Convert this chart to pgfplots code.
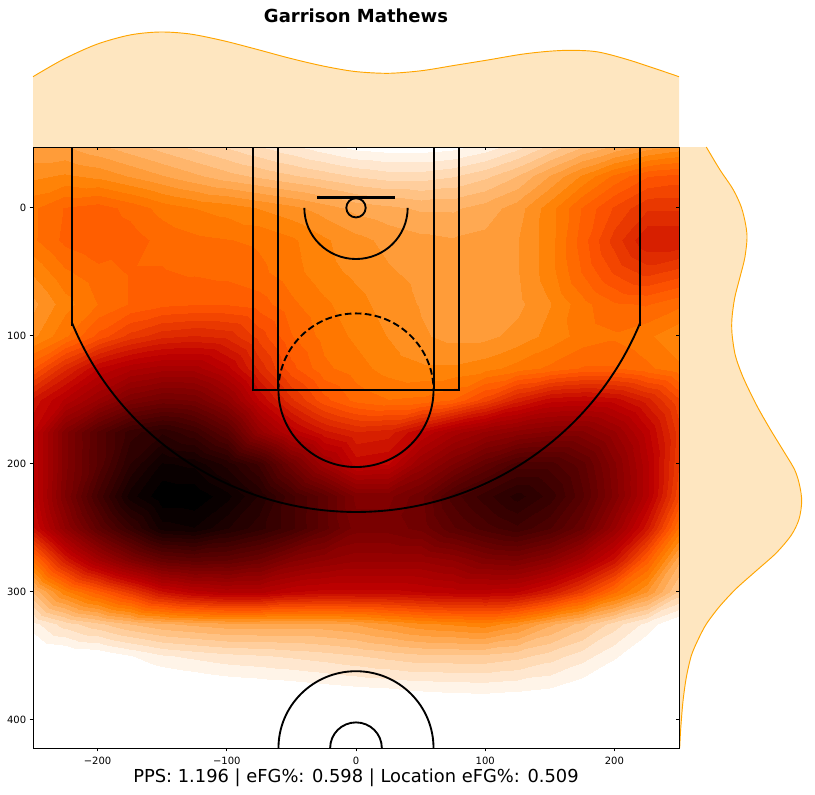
\documentclass[border=0pt]{standalone}
\usepackage{pgfplots}
\usepackage{fontspec}
\setmainfont{DejaVu Sans}
\pgfplotsset{compat=1.18}
\definecolor{margfill}{RGB}{254,230,192}
\definecolor{margline}{RGB}{255,165,0}
\pgfplotstableread{
x h
-250 70.3
-226.5 87.7
-200.7 102.7
-175 112
-151.7 115
-128.5 113
-102.7 106.3
-76.9 97.7
-51 88.7
-25.5 81
-0.8 75.5
25 73.7
50.8 76.3
76.6 81.7
102 87
128 92.7
149 95.7
167 96.7
187.5 95
213 86.3
250 70.3
}\topkde
\pgfplotstableread{
w y
27.3 -47.5
40.7 -30
54 -14.5
62.3 -0.6
66.7 13.3
68 24.1
65.7 39.5
60.7 55
55.7 70.4
53 85.9
53 98.2
56.3 115.2
64 132.2
77.3 153.8
90.7 172.3
104 189.3
115.7 204.7
120.7 217.1
122.7 229.5
120 243.3
112.3 255.7
97.3 269.6
77.3 283.5
57.3 297.4
40.7 311.3
27.3 325.2
19 337.5
12.3 349.9
7.3 366.9
4 385.4
1.7 407
0.7 422
}\rightkde
\begin{document}
\begin{tikzpicture}[x=1pt,y=1pt]
\path[use as bounding box] (0,0) rectangle (611.25,595.5);
% top marginal
\begin{axis}[at={(24.75pt,485.25pt)},anchor=south west,scale only axis,
  width=484.5pt,height=87.75pt,xmin=-250,xmax=250,ymin=0,ymax=117,hide axis,clip=false]
\addplot[fill=margfill,draw=none,smooth] table[x=x,y=h] {\topkde} \closedcycle;
\addplot[margline,line width=0.7pt,smooth] table[x=x,y=h] {\topkde};
\addplot[margline,line width=0.7pt] coordinates {(-250,0) (250,0)};
\end{axis}
% right marginal
\begin{axis}[at={(509.25pt,34.5pt)},anchor=south west,scale only axis,
  width=92.25pt,height=450.75pt,xmin=0,xmax=123,ymin=-47.5,ymax=422,y dir=reverse,hide axis,clip=false]
\addplot[fill=margfill,draw=none] coordinates {(0,-47.5) (27.3,-47.5) (40.7,-30) (54,-14.5) (62.3,-0.6) (66.7,13.3) (68,24.1) (65.7,39.5) (60.7,55) (55.7,70.4) (53,85.9) (53,98.2) (56.3,115.2) (64,132.2) (77.3,153.8) (90.7,172.3) (104,189.3) (115.7,204.7) (120.7,217.1) (122.7,229.5) (120,243.3) (112.3,255.7) (97.3,269.6) (77.3,283.5) (57.3,297.4) (40.7,311.3) (27.3,325.2) (19,337.5) (12.3,349.9) (7.3,366.9) (4,385.4) (1.7,407) (0.7,422) (0,422)};
\addplot[margline,line width=0.7pt,smooth] table[x=w,y=y] {\rightkde};
\end{axis}
% main shot chart
\begin{axis}[at={(24.75pt,34.5pt)},anchor=south west,scale only axis,
  width=484.5pt,height=450.75pt,
  xmin=-250,xmax=250,ymin=-47.5,ymax=422,y dir=reverse,
  colormap={gistheat}{rgb(0)=(1,1,1) rgb(30)=(1,1,1) rgb(105)=(1,.5,0) rgb(130)=(1,.333,0) rgb(180)=(.75,0,0) rgb(330)=(0,0,0) rgb(360)=(0,0,0)},
  point meta min=-0.1,point meta max=1.1,
  xtick={-200,-100,0,100,200},xticklabels={−200,−100,0,100,200},
  ytick={0,100,200,300,400},yticklabels={0,100,200,300,400},
  tick pos=lower,tick align=outside,
  major tick length=2.6pt,
  tick style={black,line width=0.6pt},
  axis line style={line width=0.6pt},
  tick label style={font=\fontsize{7.5}{9}\selectfont},
  xticklabel style={yshift=-0.5pt},
  yticklabel style={xshift=1pt},
]
\addplot[contour filled={number=50},point meta=explicit,mesh/cols=21] coordinates {
(-250,-47.5)[.19] (-225,-47.5)[.19] (-200,-47.5)[.17] (-175,-47.5)[.15] (-150,-47.5)[.13] (-125,-47.5)[.11] (-100,-47.5)[.09] (-75,-47.5)[.07] (-50,-47.5)[.05] (-25,-47.5)[.03] (0,-47.5)[.012] (25,-47.5)[.006] (50,-47.5)[.006] (75,-47.5)[.012] (100,-47.5)[.03] (125,-47.5)[.06] (150,-47.5)[.1] (175,-47.5)[.14] (200,-47.5)[.17] (225,-47.5)[.2] (250,-47.5)[.22]
(-250,-25)[.23] (-225,-25)[.24] (-200,-25)[.23] (-175,-25)[.21] (-150,-25)[.19] (-125,-25)[.17] (-100,-25)[.15] (-75,-25)[.135] (-50,-25)[.12] (-25,-25)[.105] (0,-25)[.09] (25,-25)[.08] (50,-25)[.08] (75,-25)[.09] (100,-25)[.11] (125,-25)[.14] (150,-25)[.19] (175,-25)[.24] (200,-25)[.29] (225,-25)[.33] (250,-25)[.34]
(-250,0)[.28] (-225,0)[.31] (-200,0)[.32] (-175,0)[.3] (-150,0)[.275] (-125,0)[.26] (-100,0)[.25] (-75,0)[.235] (-50,0)[.22] (-25,0)[.2] (0,0)[.18] (25,0)[.17] (50,0)[.16] (75,0)[.16] (100,0)[.175] (125,0)[.2] (150,0)[.25] (175,0)[.31] (200,0)[.36] (225,0)[.4] (250,0)[.4]
(-250,25)[.28] (-225,25)[.315] (-200,25)[.33] (-175,25)[.32] (-150,25)[.3] (-125,25)[.29] (-100,25)[.285] (-75,25)[.28] (-50,25)[.265] (-25,25)[.24] (0,25)[.22] (25,25)[.205] (50,25)[.195] (75,25)[.19] (100,25)[.195] (125,25)[.21] (150,25)[.25] (175,25)[.32] (200,25)[.39] (225,25)[.45] (250,25)[.45]
(-250,50)[.24] (-225,50)[.28] (-200,50)[.3] (-175,50)[.31] (-150,50)[.31] (-125,50)[.305] (-100,50)[.3] (-75,50)[.29] (-50,50)[.27] (-25,50)[.245] (0,50)[.23] (25,50)[.215] (50,50)[.205] (75,50)[.2] (100,50)[.195] (125,50)[.21] (150,50)[.25] (175,50)[.31] (200,50)[.36] (225,50)[.39] (250,50)[.37]
(-250,75)[.205] (-225,75)[.25] (-200,75)[.285] (-175,75)[.31] (-150,75)[.325] (-125,75)[.33] (-100,75)[.33] (-75,75)[.32] (-50,75)[.29] (-25,75)[.265] (0,75)[.245] (25,75)[.225] (50,75)[.21] (75,75)[.2] (100,75)[.2] (125,75)[.205] (150,75)[.235] (175,75)[.275] (200,75)[.305] (225,75)[.31] (250,75)[.29]
(-250,100)[.23] (-225,100)[.28] (-200,100)[.34] (-175,100)[.39] (-150,100)[.42] (-125,100)[.43] (-100,100)[.42] (-75,100)[.37] (-50,100)[.31] (-25,100)[.275] (0,100)[.255] (25,100)[.235] (50,100)[.215] (75,100)[.205] (100,100)[.205] (125,100)[.22] (150,100)[.245] (175,100)[.27] (200,100)[.28] (225,100)[.265] (250,100)[.24]
(-250,125)[.33] (-225,125)[.42] (-200,125)[.5] (-175,125)[.54] (-150,125)[.56] (-125,125)[.56] (-100,125)[.51] (-75,125)[.42] (-50,125)[.34] (-25,125)[.29] (0,125)[.27] (25,125)[.25] (50,125)[.24] (75,125)[.24] (100,125)[.25] (125,125)[.27] (150,125)[.29] (175,125)[.31] (200,125)[.31] (225,125)[.29] (250,125)[.265]
(-250,150)[.46] (-225,150)[.53] (-200,150)[.6] (-175,150)[.67] (-150,150)[.7] (-125,150)[.69] (-100,150)[.62] (-75,150)[.5] (-50,150)[.41] (-25,150)[.34] (0,150)[.3] (25,150)[.285] (50,150)[.29] (75,150)[.31] (100,150)[.37] (125,150)[.44] (150,150)[.49] (175,150)[.5] (200,150)[.49] (225,150)[.44] (250,150)[.36]
(-250,175)[.5] (-225,175)[.66] (-200,175)[.77] (-175,175)[.85] (-150,175)[.88] (-125,175)[.84] (-100,175)[.76] (-75,175)[.61] (-50,175)[.52] (-25,175)[.46] (0,175)[.43] (25,175)[.44] (50,175)[.5] (75,175)[.56] (100,175)[.6] (125,175)[.63] (150,175)[.65] (175,175)[.65] (200,175)[.6] (225,175)[.51] (250,175)[.39]
(-250,200)[.5] (-225,200)[.66] (-200,200)[.77] (-175,200)[.885] (-150,200)[.96] (-125,200)[.95] (-100,200)[.9] (-75,200)[.83] (-50,200)[.7] (-25,200)[.58] (0,200)[.49] (25,200)[.5] (50,200)[.6] (75,200)[.67] (100,200)[.74] (125,200)[.8] (150,200)[.8] (175,200)[.75] (200,200)[.65] (225,200)[.53] (250,200)[.38]
(-250,225)[.5] (-225,225)[.67] (-200,225)[.82] (-175,225)[.945] (-150,225)[1.0] (-125,225)[1.0] (-100,225)[.965] (-75,225)[.905] (-50,225)[.82] (-25,225)[.75] (0,225)[.66] (25,225)[.66] (50,225)[.71] (75,225)[.8] (100,225)[.85] (125,225)[.895] (150,225)[.85] (175,225)[.77] (200,225)[.66] (225,225)[.53] (250,225)[.36]
(-250,250)[.47] (-225,250)[.62] (-200,250)[.75] (-175,250)[.85] (-150,250)[.945] (-125,250)[.955] (-100,250)[.91] (-75,250)[.87] (-50,250)[.82] (-25,250)[.75] (0,250)[.68] (25,250)[.68] (50,250)[.7] (75,250)[.76] (100,250)[.8] (125,250)[.83] (150,250)[.79] (175,250)[.72] (200,250)[.6] (225,250)[.46] (250,250)[.28]
(-250,275)[.29] (-225,275)[.45] (-200,275)[.57] (-175,275)[.66] (-150,275)[.73] (-125,275)[.75] (-100,275)[.74] (-75,275)[.71] (-50,275)[.65] (-25,275)[.62] (0,275)[.6] (25,275)[.6] (50,275)[.6] (75,275)[.62] (100,275)[.66] (125,275)[.67] (150,275)[.63] (175,275)[.56] (200,275)[.47] (225,275)[.32] (250,275)[.17]
(-250,300)[.14] (-225,300)[.25] (-200,300)[.32] (-175,300)[.39] (-150,300)[.47] (-125,300)[.51] (-100,300)[.53] (-75,300)[.53] (-50,300)[.5] (-25,300)[.49] (0,300)[.49] (25,300)[.49] (50,300)[.5] (75,300)[.51] (100,300)[.51] (125,300)[.5] (150,300)[.45] (175,300)[.38] (200,300)[.29] (225,300)[.21] (250,300)[.11]
(-250,325)[.035] (-225,325)[.08] (-200,325)[.11] (-175,325)[.14] (-150,325)[.16] (-125,325)[.17] (-100,325)[.18] (-75,325)[.18] (-50,325)[.18] (-25,325)[.18] (0,325)[.19] (25,325)[.21] (50,325)[.23] (75,325)[.24] (100,325)[.25] (125,325)[.22] (150,325)[.17] (175,325)[.13] (200,325)[.08] (225,325)[.035] (250,325)[-.01]
(-250,350)[-.02] (-225,350)[-.01] (-200,350)[-.003] (-175,350)[.018] (-150,350)[.04] (-125,350)[.05] (-100,350)[.06] (-75,350)[.065] (-50,350)[.072] (-25,350)[.08] (0,350)[.09] (25,350)[.1] (50,350)[.11] (75,350)[.11] (100,350)[.11] (125,350)[.1] (150,350)[.08] (175,350)[.055] (200,350)[.025] (225,350)[-.01] (250,350)[-.05]
(-250,375)[-.05] (-225,375)[-.045] (-200,375)[-.04] (-175,375)[-.035] (-150,375)[-.02] (-125,375)[-.012] (-100,375)[-.004] (-75,375)[0] (-50,375)[.004] (-25,375)[.01] (0,375)[.016] (25,375)[.02] (50,375)[.025] (75,375)[.028] (100,375)[.03] (125,375)[.026] (150,375)[.02] (175,375)[.004] (200,375)[-.02] (225,375)[-.05] (250,375)[-.08]
(-250,400)[-.03] (-225,400)[-.03] (-200,400)[-.03] (-175,400)[-.03] (-150,400)[-.03] (-125,400)[-.03] (-100,400)[-.03] (-75,400)[-.03] (-50,400)[-.03] (-25,400)[-.03] (0,400)[-.03] (25,400)[-.03] (50,400)[-.03] (75,400)[-.03] (100,400)[-.03] (125,400)[-.03] (150,400)[-.03] (175,400)[-.03] (200,400)[-.03] (225,400)[-.03] (250,400)[-.03]
(-250,422)[-.03] (-225,422)[-.03] (-200,422)[-.03] (-175,422)[-.03] (-150,422)[-.03] (-125,422)[-.03] (-100,422)[-.03] (-75,422)[-.03] (-50,422)[-.03] (-25,422)[-.03] (0,422)[-.03] (25,422)[-.03] (50,422)[-.03] (75,422)[-.03] (100,422)[-.03] (125,422)[-.03] (150,422)[-.03] (175,422)[-.03] (200,422)[-.03] (225,422)[-.03] (250,422)[-.03]
};
% court
\draw[black,line width=2.1pt] (axis cs:-30,-8) -- (axis cs:30,-8);
\draw[black,line width=1.4pt] (axis cs:0,0) circle [x radius=7.5,y radius=7.5];
\draw[black,line width=1.4pt] (axis cs:-40,0) arc [start angle=180,end angle=0,x radius=40,y radius=40];
\draw[black,line width=1.4pt] (axis cs:-80,-47.5) -- (axis cs:-80,142.5) -- (axis cs:80,142.5) -- (axis cs:80,-47.5);
\draw[black,line width=1.55pt] (axis cs:-60.2,-47.5) -- (axis cs:-60.2,142.5);
\draw[black,line width=1.55pt] (axis cs:60.3,-47.5) -- (axis cs:60.3,142.5);
\draw[black,line width=1.4pt] (axis cs:-60,142.5) arc [start angle=180,end angle=0,x radius=60,y radius=60];
\draw[black,line width=1.4pt,dash pattern=on 5pt off 2.5pt] (axis cs:-60,142.5) arc [start angle=180,end angle=0,x radius=60,y radius=-60];
\draw[black,line width=1.4pt] (axis cs:-220,-47.5) -- (axis cs:-220,92.5);
\draw[black,line width=1.4pt] (axis cs:220,-47.5) -- (axis cs:220,92.5);
\draw[black,line width=1.4pt] (axis cs:-220,89.4) arc [start angle=157.9,end angle=22.1,x radius=237.5,y radius=237.5];
\draw[black,line width=1.4pt] (axis cs:0,422) circle [x radius=60,y radius=60];
\draw[black,line width=1.4pt] (axis cs:0,422) circle [x radius=20,y radius=20];
\end{axis}
% inward ticks on the top and right edges
\begin{axis}[at={(24.75pt,34.5pt)},anchor=south west,scale only axis,
  width=484.5pt,height=450.75pt,
  xmin=-250,xmax=250,ymin=-47.5,ymax=422,y dir=reverse,
  xtick={-200,-100,0,100,200},ytick={0,100,200,300,400},
  xticklabels={},yticklabels={},
  xtick pos=upper,ytick pos=upper,tick align=inside,
  major tick length=2.6pt,
  tick style={black,line width=0.6pt},
  axis line style={line width=0.6pt},
]
\end{axis}
\node[font=\bfseries\fontsize{13.5}{16}\selectfont] at (267,584) {Garrison Mathews};
\node[font=\fontsize{13.4}{16}\selectfont] at (267,12.5) {PPS: 1.196 | eFG\%: 0.598 | Location eFG\%: 0.509};
\end{tikzpicture}
\end{document}
